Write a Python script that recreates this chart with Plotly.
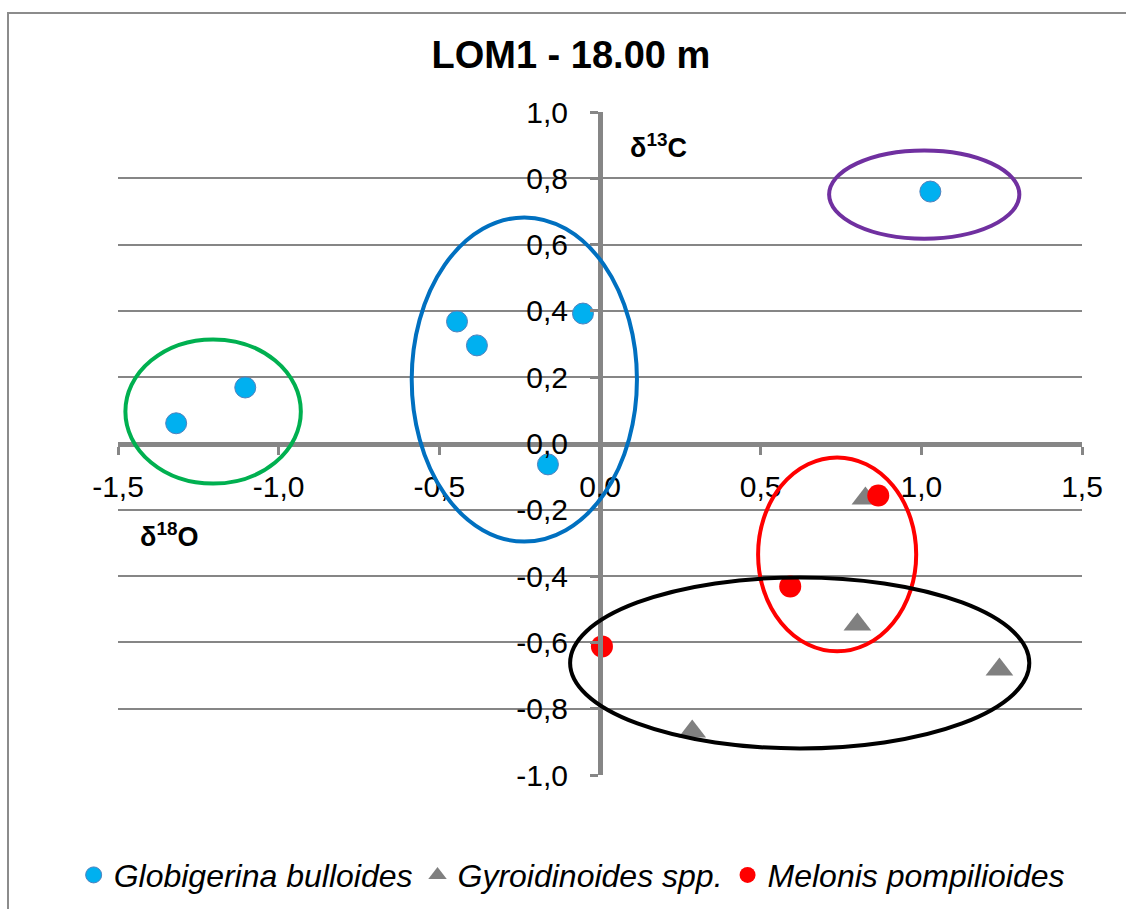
import plotly.graph_objects as go

# ---- data ----
glob_x = [-1.319, -1.104, -0.445, -0.383, -0.053, -0.162, 1.028]
glob_y = [0.061, 0.169, 0.368, 0.296, 0.392, -0.063, 0.760]

gyro_x = [0.826, 0.801, 1.243, 0.287]
gyro_y = [-0.166, -0.546, -0.682, -0.869]

melo_x = [0.866, 0.592, 0.006]
melo_y = [-0.157, -0.431, -0.612]

series_names = ["Globigerina bulloides", "Gyroidinoides spp.", "Melonis pompilioides"]

x_ticks = [-1.5, -1.0, -0.5, 0.0, 0.5, 1.0, 1.5]
x_tick_text = ["-1,5", "-1,0", "-0,5", "0,0", "0,5", "1,0", "1,5"]
y_ticks = [-1.0, -0.8, -0.6, -0.4, -0.2, 0.0, 0.2, 0.4, 0.6, 0.8, 1.0]
y_tick_text = ["-1,0", "-0,8", "-0,6", "-0,4", "-0,2", "0,0", "0,2", "0,4", "0,6", "0,8", "1,0"]

# grouping ellipses (x0, x1, y0, y1) in data units, with colours
ellipse_bounds = [
    (-1.477, -0.931, -0.121, 0.314),
    (-0.586, 0.115, -0.296, 0.682),
    (0.713, 1.305, 0.618, 0.884),
    (0.492, 0.984, -0.627, -0.042),
    (-0.093, 1.336, -0.920, -0.404),
]
ellipse_colors = ["#00b050", "#0070c0", "#7030a0", "#ff0000", "#000000"]

FONT = "Liberation Sans, Arial, sans-serif"
GRAY = "#868686"

fig = go.Figure()
fig.add_trace(go.Scatter(
    x=glob_x, y=glob_y, mode="markers", name=series_names[0],
    marker=dict(symbol="circle", size=21, color="#00b0f0",
                line=dict(width=1, color="#4f81bd")),
))
fig.add_trace(go.Scatter(
    x=gyro_x, y=gyro_y, mode="markers", name=series_names[1],
    marker=dict(symbol="triangle-up", size=24, color="#808080", line=dict(width=0)),
))
fig.add_trace(go.Scatter(
    x=melo_x, y=melo_y, mode="markers", name=series_names[2],
    marker=dict(symbol="circle", size=22, color="#ff0000", line=dict(width=0)),
))

shapes = []
for (x0, x1, y0, y1), c in zip(ellipse_bounds, ellipse_colors):
    shapes.append(dict(type="circle", xref="x", yref="y", x0=x0, x1=x1, y0=y0, y1=y1,
                       line=dict(color=c, width=4), layer="above"))
# outer chart border
shapes.append(dict(type="rect", xref="paper", yref="paper",
                   x0=-0.1141, x1=1.3, y0=-0.4, y1=1.1493,
                   line=dict(color="#8c8c8c", width=2), layer="below"))

fig.update_layout(
    width=1126, height=909, autosize=False,
    margin=dict(l=118, r=44, t=112, b=134, autoexpand=False),
    paper_bgcolor="white", plot_bgcolor="white",
    font=dict(family=FONT, color="black"),
    title=dict(text="<b>LOM1 - 18.00 m</b>", x=0.507, xref="container", xanchor="center",
               y=0.9395, yref="container", yanchor="middle",
               font=dict(family=FONT, size=38, color="black")),
    xaxis=dict(range=[-1.5, 1.5], tickvals=x_ticks, ticktext=x_tick_text,
               anchor="free", position=0.5, showline=True, linecolor=GRAY, linewidth=5,
               ticks="outside", ticklen=8, tickwidth=3, tickcolor=GRAY,
               showgrid=False, zeroline=False, tickfont=dict(size=30, color="black"),
               ticklabelstandoff=6, fixedrange=True),
    yaxis=dict(range=[-1, 1], tickvals=y_ticks, ticktext=y_tick_text,
               anchor="free", position=0.5, showline=True, linecolor=GRAY, linewidth=5,
               ticks="outside", ticklen=8, tickwidth=3, tickcolor=GRAY,
               showgrid=True, gridcolor=GRAY, gridwidth=2, zeroline=False,
               tickfont=dict(size=30, color="black"), ticklabelstandoff=16, fixedrange=True),
    showlegend=True,
    legend=dict(orientation="h", xref="paper", x=-0.046, xanchor="left",
                yref="paper", y=-0.151, yanchor="middle",
                font=dict(family=FONT, size=32, color="black", style="italic"),
                bgcolor="rgba(0,0,0,0)", traceorder="normal", itemwidth=30),
    shapes=shapes,
    annotations=[
        dict(text="<b>δ<sup>13</sup>C</b>", x=0.087, y=0.896, xref="x", yref="y",
             xanchor="left", yanchor="middle", showarrow=False,
             font=dict(family=FONT, size=27, color="black")),
        dict(text="<b>δ<sup>18</sup>O</b>", x=-1.439, y=-0.275, xref="x", yref="y",
             xanchor="left", yanchor="middle", showarrow=False,
             font=dict(family=FONT, size=27, color="black")),
    ],
)

fig.write_html("out.html")
